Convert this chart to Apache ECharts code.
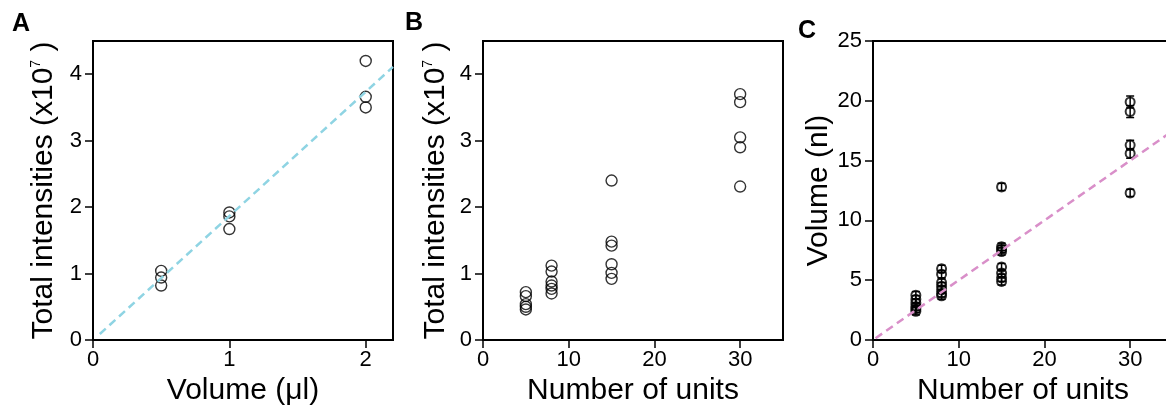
<!DOCTYPE html>
<html>
<head>
<meta charset="utf-8">
<script src="https://cdn.jsdelivr.net/npm/echarts@6/dist/echarts.min.js"></script>
<style>
  html, body { margin: 0; padding: 0; background: #fff; }
  #chart { width: 1166px; height: 405px; }
</style>
</head>
<body>
<div id="chart"></div>
<script>
// panel A: intensity vs volume
var aVolume = [0.5, 0.5, 0.5, 1, 1, 1, 2, 2, 2];
var aIntensity = [1.04, 0.94, 0.82, 1.92, 1.86, 1.67, 4.2, 3.66, 3.5];
var aFit = [[0.05, 0.09], [2.2, 4.11]];

// panel B: intensity vs number of units
var bUnits = [5, 5, 5, 5, 5, 8, 8, 8, 8, 8, 8, 15, 15, 15, 15, 15, 15, 30, 30, 30, 30, 30];
var bIntensity = [0.72, 0.66, 0.54, 0.5, 0.46, 1.12, 1.03, 0.88, 0.82, 0.77, 0.7,
  2.4, 1.48, 1.42, 1.14, 1.01, 0.92, 3.7, 3.58, 3.05, 2.9, 2.31];

// panel C: volume vs number of units (mean +/- error)
var cUnits = [5, 5, 5, 5, 5, 5, 8, 8, 8, 8, 8, 8, 8, 15, 15, 15, 15, 15, 15, 15, 15, 30, 30, 30, 30, 30];
var cVolume = [3.75, 3.4, 3.1, 2.8, 2.6, 2.4, 5.95, 5.5, 4.8, 4.5, 4.2, 3.9, 3.7,
  12.8, 7.8, 7.6, 7.4, 6.1, 5.6, 5.2, 4.9, 19.9, 19.1, 16.3, 15.6, 12.3];
var cError = [0.3, 0.3, 0.3, 0.3, 0.3, 0.3, 0.3, 0.3, 0.3, 0.3, 0.3, 0.3, 0.3,
  0.3, 0.3, 0.3, 0.3, 0.3, 0.3, 0.3, 0.3, 0.5, 0.5, 0.4, 0.4, 0.3];
var cFit = [[0.3, 0.15], [35, 17.5]];

// tick labels
var ticksAX = [0, 1, 2];
var ticksABY = [0, 1, 2, 3, 4];
var ticksUnits = [0, 10, 20, 30];
var ticksCY = [0, 5, 10, 15, 20, 25];

function pairs(xs, ys) {
  return xs.map(function (x, i) { return [x, ys[i]]; });
}

var FONT = 'Liberation Sans, Arial, sans-serif';
var chart = echarts.init(document.getElementById('chart'));

function xAxisCfg(idx, max, ticks, name) {
  return {
    gridIndex: idx, type: 'value', min: 0, max: max,
    name: name, nameLocation: 'middle', nameGap: 31,
    nameTextStyle: { fontSize: 30, color: '#000', fontFamily: FONT },
    axisLine: { onZero: false, lineStyle: { color: '#000', width: 2 } },
    axisTick: { length: 8, lineStyle: { color: '#000', width: 1.5 }, customValues: ticks },
    axisLabel: { fontSize: 22, color: '#000', fontFamily: FONT, margin: 9, customValues: ticks },
    splitLine: { show: false }
  };
}

function yAxisCfg(idx, max, ticks, name, gap) {
  return {
    gridIndex: idx, type: 'value', min: 0, max: max,
    name: name, nameLocation: 'middle', nameGap: gap,
    nameTextStyle: {
      fontSize: 30, color: '#000', fontFamily: FONT,
      rich: { s: { fontSize: 14, verticalAlign: 'top', color: '#000', fontFamily: FONT } }
    },
    axisLine: { onZero: false, lineStyle: { color: '#000', width: 2 } },
    axisTick: { length: 8, lineStyle: { color: '#000', width: 1.5 }, customValues: ticks },
    axisLabel: { fontSize: 22, color: '#000', fontFamily: FONT, margin: 11, customValues: ticks },
    splitLine: { show: false }
  };
}

var gridBase = {
  top: 41, height: 299, width: 300, show: true, borderColor: '#000', borderWidth: 2,
  containLabel: false, outerBoundsMode: 'none'
};

var option = {
  animation: false,
  backgroundColor: '#fff',
  grid: [
    Object.assign({}, gridBase, { left: 93 }),
    Object.assign({}, gridBase, { left: 483 }),
    Object.assign({}, gridBase, { left: 873 })
  ],
  xAxis: [
    xAxisCfg(0, 2.2, ticksAX, 'Volume (μl)'),
    xAxisCfg(1, 35, ticksUnits, 'Number of units'),
    xAxisCfg(2, 35, ticksUnits, 'Number of units')
  ],
  yAxis: [
    yAxisCfg(0, 4.5, ticksABY, 'Total intensities (x10{s|7} )', 34),
    yAxisCfg(1, 4.5, ticksABY, 'Total intensities (x10{s|7} )', 32),
    yAxisCfg(2, 25, ticksCY, 'Volume (nl)', 36)
  ],
  graphic: [
    { type: 'text', left: 12, top: 12, style: { text: 'A', font: 'bold 25px ' + FONT, fill: '#000' } },
    { type: 'text', left: 405, top: 11, style: { text: 'B', font: 'bold 25px ' + FONT, fill: '#000' } },
    { type: 'text', left: 798, top: 19, style: { text: 'C', font: 'bold 25px ' + FONT, fill: '#000' } }
  ],
  series: [
    {
      type: 'line', xAxisIndex: 0, yAxisIndex: 0, data: aFit, symbol: 'none',
      lineStyle: { color: '#8fd4e3', width: 2.5, type: [8, 5] }
    },
    {
      type: 'scatter', xAxisIndex: 0, yAxisIndex: 0, data: pairs(aVolume, aIntensity),
      symbol: 'circle', symbolSize: 11,
      itemStyle: { color: 'rgba(0,0,0,0)', borderColor: '#000', borderWidth: 1.4 }
    },
    {
      type: 'scatter', xAxisIndex: 1, yAxisIndex: 1, data: pairs(bUnits, bIntensity),
      symbol: 'circle', symbolSize: 11,
      itemStyle: { color: 'rgba(0,0,0,0)', borderColor: '#000', borderWidth: 1.4 }
    },
    {
      type: 'line', xAxisIndex: 2, yAxisIndex: 2, data: cFit, symbol: 'none',
      lineStyle: { color: '#d98fc9', width: 2.5, type: [8, 5] }
    },
    {
      type: 'custom', xAxisIndex: 2, yAxisIndex: 2,
      data: cUnits.map(function (x, i) { return [x, cVolume[i], cError[i]]; }),
      renderItem: function (params, api) {
        var x = api.value(0), y = api.value(1), e = api.value(2);
        var lo = api.coord([x, y - e]);
        var hi = api.coord([x, y + e]);
        var w = 4;
        var st = { stroke: '#000', lineWidth: 1.5 };
        return {
          type: 'group',
          children: [
            { type: 'line', shape: { x1: lo[0], y1: lo[1], x2: hi[0], y2: hi[1] }, style: st },
            { type: 'line', shape: { x1: lo[0] - w, y1: lo[1], x2: lo[0] + w, y2: lo[1] }, style: st },
            { type: 'line', shape: { x1: hi[0] - w, y1: hi[1], x2: hi[0] + w, y2: hi[1] }, style: st }
          ]
        };
      }
    },
    {
      type: 'scatter', xAxisIndex: 2, yAxisIndex: 2, data: pairs(cUnits, cVolume),
      symbol: 'circle', symbolSize: 9,
      itemStyle: { color: 'rgba(0,0,0,0)', borderColor: '#000', borderWidth: 2 }
    }
  ]
};

chart.setOption(option);
</script>
</body>
</html>
